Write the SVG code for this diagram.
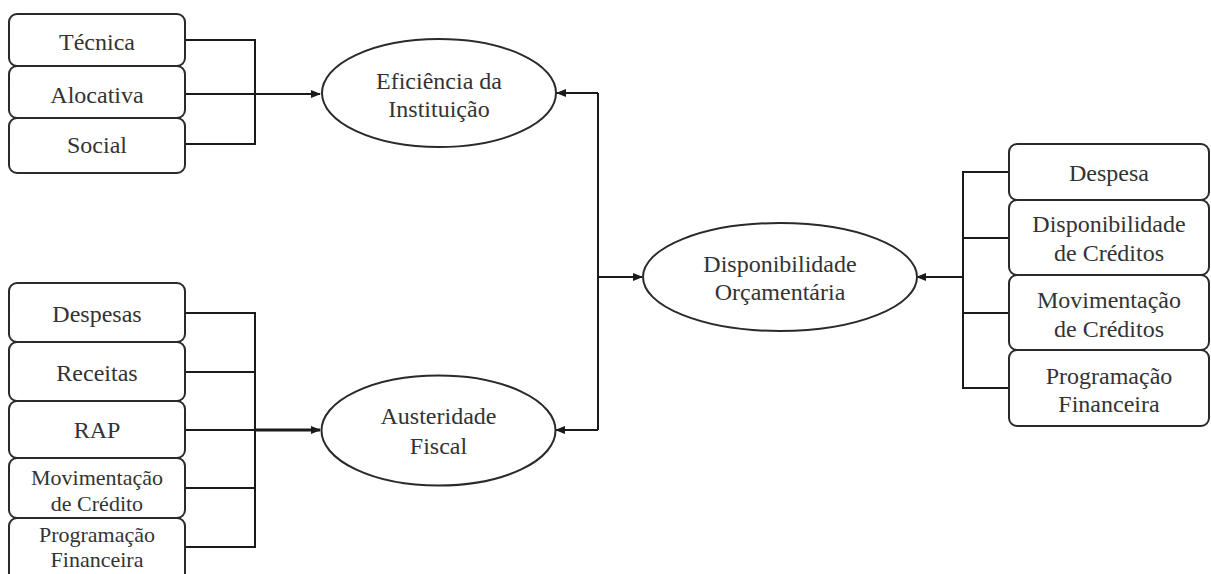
<svg xmlns="http://www.w3.org/2000/svg" width="1211" height="574" viewBox="0 0 1211 574">
<style>
.box{fill:#fff;stroke:#2a2a2a;stroke-width:2}
.ell{fill:#fff;stroke:#2a2a2a;stroke-width:2}
text{font-family:"Liberation Serif","Times New Roman",serif;font-size:24px;fill:#333;text-anchor:middle}
text.s{font-size:22px}
.c{fill:none;stroke:#1a1a1a;stroke-width:2}
</style>
<defs>
<marker id="ah" markerUnits="userSpaceOnUse" markerWidth="10" markerHeight="8" refX="9" refY="4" orient="auto">
<path d="M0,0 L10,4 L0,8 z" fill="#1a1a1a"/>
</marker>
</defs>
<rect width="1211" height="574" fill="#fff"/>
<g id="connectors">
<path class="c" d="M185 40 H255 V144 H185"/>
<path class="c" d="M185 94 H320" marker-end="url(#ah)"/>
<path class="c" d="M185 313 H255 V547 H185"/>
<path class="c" d="M185 372 H255"/>
<path class="c" d="M185 488 H255"/>
<path class="c" d="M185 430 H255"/>
<path class="c" d="M255 430 H320" style="stroke-width:3" marker-end="url(#ah)"/>
<path class="c" d="M598 93 V430"/>
<path class="c" d="M598 93 H557" marker-end="url(#ah)"/>
<path class="c" d="M598 430 H556" marker-end="url(#ah)"/>
<path class="c" d="M598 277 H642" marker-end="url(#ah)"/>
<path class="c" d="M1009 172 H963 V388 H1009"/>
<path class="c" d="M1009 238 H963"/>
<path class="c" d="M1009 313 H963"/>
<path class="c" d="M963 277 H917" marker-end="url(#ah)"/>
</g>
<g id="tecnica"><rect class="box" x="9" y="14" width="176" height="52" rx="8"/><text x="97" y="50">Técnica</text></g>
<g id="alocativa"><rect class="box" x="9" y="66" width="176" height="52" rx="8"/><text x="97" y="103">Alocativa</text></g>
<g id="social"><rect class="box" x="9" y="118" width="176" height="55" rx="8"/><text x="97" y="153">Social</text></g>
<g id="eficiencia"><ellipse class="ell" cx="439" cy="93" rx="117" ry="54"/><text x="439" y="89">Eficiência da</text><text x="439" y="117">Instituição</text></g>
<g id="despesas"><rect class="box" x="9" y="283" width="176" height="59" rx="8"/><text x="97" y="322">Despesas</text></g>
<g id="receitas"><rect class="box" x="9" y="342" width="176" height="59" rx="8"/><text x="97" y="381">Receitas</text></g>
<g id="rap"><rect class="box" x="9" y="401" width="176" height="57" rx="8"/><text x="97" y="438">RAP</text></g>
<g id="movcredito"><rect class="box" x="9" y="458" width="176" height="60" rx="8"/><text class="s" x="97" y="485">Movimentação</text><text class="s" x="97" y="511">de Crédito</text></g>
<g id="progfin-left"><rect class="box" x="9" y="518" width="176" height="64" rx="8"/><text class="s" x="97" y="542">Programação</text><text class="s" x="97" y="567">Financeira</text></g>
<g id="austeridade"><ellipse class="ell" cx="438.5" cy="430.5" rx="117" ry="55"/><text x="438.5" y="424">Austeridade</text><text x="438.5" y="454">Fiscal</text></g>
<g id="disponibilidade"><ellipse class="ell" cx="780" cy="277" rx="137" ry="54"/><text x="780" y="272">Disponibilidade</text><text x="780" y="300">Orçamentária</text></g>
<g id="despesa"><rect class="box" x="1009" y="144" width="200" height="56" rx="8"/><text x="1109" y="181">Despesa</text></g>
<g id="dispcreditos"><rect class="box" x="1009" y="200" width="200" height="75" rx="8"/><text x="1109" y="232">Disponibilidade</text><text x="1109" y="261">de Créditos</text></g>
<g id="movcreditos"><rect class="box" x="1009" y="275" width="200" height="75" rx="8"/><text x="1109" y="308">Movimentação</text><text x="1109" y="337">de Créditos</text></g>
<g id="progfin-right"><rect class="box" x="1009" y="350" width="200" height="76" rx="8"/><text x="1109" y="384">Programação</text><text x="1109" y="412">Financeira</text></g>
</svg>
